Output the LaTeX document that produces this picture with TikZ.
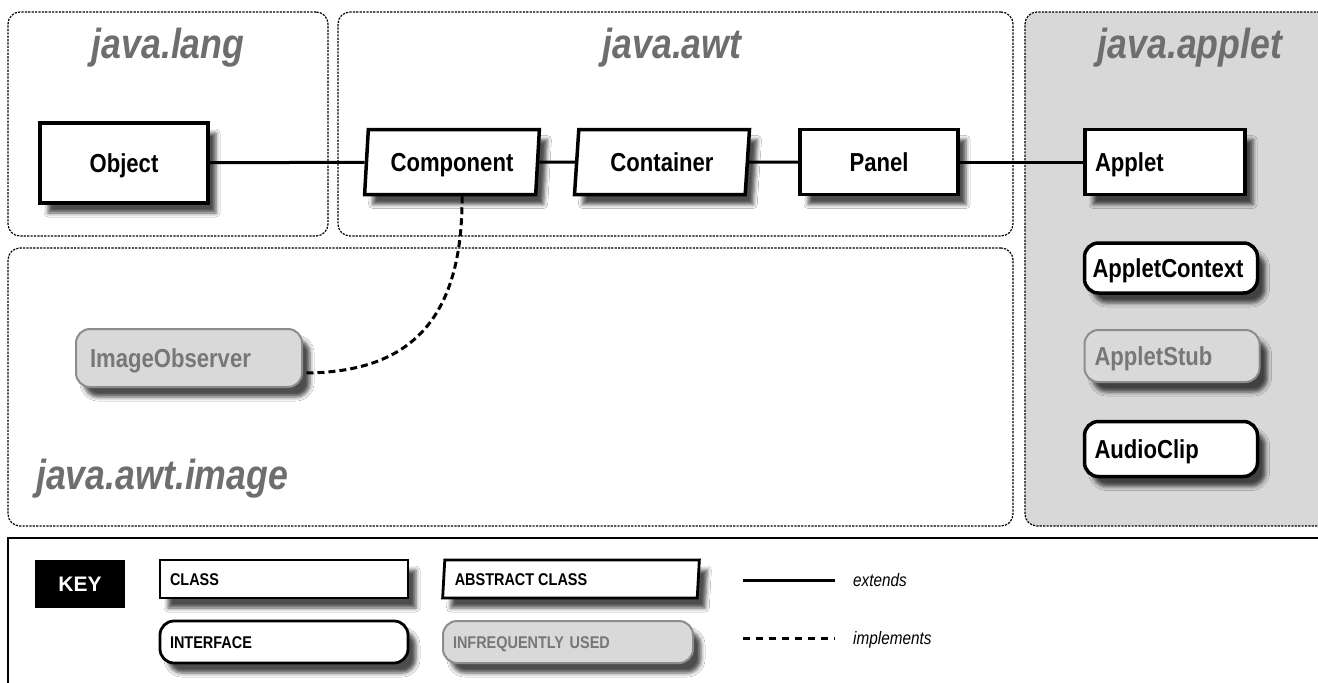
\documentclass[tikz,border=0pt]{standalone}
\usepackage{fontspec}
\setmainfont{Liberation Sans}
\newfontfamily\cf[FakeStretch=0.85]{Liberation Sans}
\usetikzlibrary{shapes.geometric,shadows.blur}
\definecolor{pkgfill}{HTML}{D8D8D8}
\definecolor{titlegray}{HTML}{6E6E6E}
\definecolor{infill}{HTML}{D9D9D9}
\definecolor{infdraw}{HTML}{8C8C8C}
\definecolor{inftext}{HTML}{777777}
\begin{document}
\begin{tikzpicture}[x=1pt,y=-1pt,
  pkg/.style={draw=black, line width=1.2pt, dash pattern=on 2.2pt off 1.2pt, rounded corners=12pt, inner sep=0pt},
  ttl/.style={text=titlegray, font=\cf\bfseries\itshape\fontsize{42}{44}\selectfont, inner sep=0pt},
  shd/.style={blur shadow={shadow xshift=8pt, shadow yshift=-10pt, shadow blur radius=4pt, shadow opacity=70}},
  cls/.style={draw=black, line width=3.5pt, fill=white, shd, inner xsep=10pt, inner ysep=0pt, text height=18pt, text depth=0pt, font=\cf\bfseries\fontsize{26}{28}\selectfont},
  abscls/.style={cls, trapezium, trapezium left angle=80, trapezium right angle=100, trapezium stretches=true},
  ifc/.style={cls, rounded corners=14pt},
  infq/.style={ifc, fill=infill, draw=infdraw, line width=2pt, text=inftext},
  keyf/.style={font=\cf\bfseries\fontsize{17}{19}\selectfont, text height=12pt, text depth=0pt, line width=2.8pt, inner xsep=10pt},
  ext/.style={line width=3pt},
  impl/.style={line width=3pt, dash pattern=on 7pt off 4pt},
  lbl/.style={font=\cf\itshape\fontsize{18}{20}\selectfont, anchor=west, inner sep=0pt}
]
\useasboundingbox (0,0) rectangle (1318,683);
\fill[white] (0,0) rectangle (1318,683);

% packages
\node[pkg, minimum width=320, minimum height=224] (plang) at (168,124) {};
\node[pkg, minimum width=675, minimum height=224] (pawt) at (675.5,124) {};
\node[pkg, fill=pkgfill, minimum width=320, minimum height=514] (papplet) at (1185,269) {};
\node[pkg, minimum width=1005, minimum height=278] (pimage) at (510.5,387) {};

\node[ttl] (tlang) at (168,48) {java.lang};
\node[ttl] (tawt) at (672,48) {java.awt};
\node[ttl] (tapplet) at (1190,48) {java.applet};
\node[ttl, anchor=west] (timage) at (36,479) {java.awt.image};

% classes
\node[cls, minimum width=168, minimum height=80] (object) at (124,163) {Object};
\node[abscls, minimum width=175, minimum height=65] (component) at (452,162) {Component};
\node[abscls, minimum width=175, minimum height=65] (container) at (662,162) {Container};
\node[cls, minimum width=158, minimum height=65] (panel) at (879,162) {Panel};
\node[cls, minimum height=65, text width=140, align=left] (applet) at (1165,162) {Applet};
\node[ifc, minimum height=50, text width=157, align=left, inner xsep=8pt] (appletcontext) at (1171,268) {AppletContext};
\node[infq, minimum height=52, text width=155, align=left] (appletstub) at (1172,356) {AppletStub};
\node[ifc, minimum height=55, text width=153, align=left] (audioclip) at (1171,449) {AudioClip};
\node[infq, minimum height=58, text width=198, align=left, inner xsep=14pt] (imageobserver) at (189,358) {ImageObserver};

% connectors
\draw[ext] (object) -- (component);
\draw[ext] (component) -- (container);
\draw[ext] (container) -- (panel);
\draw[ext] (panel) -- (applet);
\draw[impl] ([xshift=10pt]component.south) .. controls (463,330) and (400,373) .. ([yshift=-15pt]imageobserver.east);

% key
\coordinate (kr) at (1330,538);
\coordinate (kc) at (8,538);
\coordinate (kb) at (8,690);
\draw[line width=2pt] (kr) -- (kc) -- (kb);
\node[fill=black, text=white, minimum width=90, minimum height=48, font=\bfseries\fontsize{21}{23}\selectfont] (key) at (80,584) {KEY};
\node[cls, keyf, minimum height=38, text width=228, align=left] (kclass) at (284,579) {CLASS};
\node[ifc, keyf, minimum height=42, text width=228, align=left] (kiface) at (284,642) {INTERFACE};
\node[abscls, keyf, minimum width=257, minimum height=38, align=left] (kabs) at (571,579) {ABSTRACT CLASS\hspace{100pt}};
\node[infq, keyf, line width=2pt, minimum height=42, text width=230, align=left] (kinf) at (568,642) {INFREQUENTLY USED};
\coordinate (e1) at (743,580);
\coordinate (e2) at (835,580);
\coordinate (i1) at (743,638);
\coordinate (i2) at (835,638);
\draw[ext] (e1) -- (e2);
\draw[impl, dash pattern=on 7pt off 6pt] (i1) -- (i2);
\node[lbl] (lext) at (853,580) {extends};
\node[lbl] (limpl) at (853,640) {implements};
\end{tikzpicture}
\end{document}
